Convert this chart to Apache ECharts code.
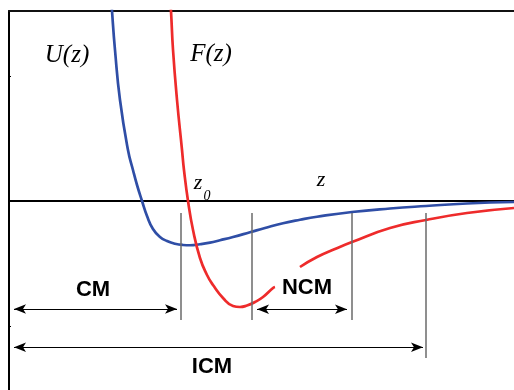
<!DOCTYPE html>
<html>
<head>
<meta charset="utf-8">
<script src="https://cdn.jsdelivr.net/npm/echarts@6/dist/echarts.min.js"></script>
<style>html,body{margin:0;padding:0;background:#fff}#c{width:514px;height:390px}</style>
</head>
<body>
<div id="c"></div>
<script>
// U(z) potential curve (arbitrary units)
const uZ   = [2.000, 2.040, 2.099, 2.198, 2.356, 2.455, 2.535, 2.634, 2.733, 2.851, 2.990, 3.129, 3.287, 3.446, 3.584, 3.782, 3.980, 4.178, 4.436, 4.772, 5.069, 5.426, 5.762, 6.099, 6.792, 7.545, 8.257, 9.069, 10.0];
const uVal = [1.768, 1.520, 1.208, 0.808, 0.408, 0.248, 0.128, 0.000, -0.120, -0.224, -0.288, -0.320, -0.342, -0.352, -0.354, -0.346, -0.333, -0.314, -0.288, -0.250, -0.216, -0.178, -0.150, -0.126, -0.088, -0.060, -0.040, -0.020, -0.008];
// F(z) force curve (null = break behind the NCM label)
const fZ   = [3.168, 3.208, 3.248, 3.327, 3.426, 3.465, 3.545, 3.644, 3.782, 3.921, 4.040, 4.238, 4.436, 4.574, 4.713, 4.871, 5.030, 5.228, 5.267, 5.500, 5.762, 6.099, 6.455, 6.792, 7.545, 8.257, 9.069, 10.0];
const fVal = [1.768, 1.520, 1.208, 0.808, 0.408, 0.248, 0.000, -0.232, -0.456, -0.592, -0.672, -0.776, -0.840, -0.848, -0.836, -0.808, -0.768, -0.696, -0.688, null, -0.528, -0.448, -0.384, -0.328, -0.216, -0.152, -0.096, -0.056];
// boundary markers
const boundZ      = [3.406, 4.812, 6.792, 8.257];
const boundTop    = [-0.096, -0.096, -0.096, -0.096];
const boundBottom = [-0.952, -0.952, -0.952, -1.256];
// range arrows
const rangeNames = ['CM', 'NCM', 'ICM'];
const rangeStart = [0.099, 4.911, 0.099];
const rangeEnd   = [3.327, 6.693, 8.198];
const rangeLevel = [-0.864, -0.866, -1.170];
// y ticks
const yTicks = [-1, 1];

const uData = uZ.map((z, i) => [z, uVal[i]]);
const fData = fZ.map((z, i) => [z, fVal[i] === null ? '-' : fVal[i]]);

const boundLines = boundZ.map((z, i) => [{coord: [z, boundTop[i]]}, {coord: [z, boundBottom[i]]}]);
const arrowLines = rangeNames.map((n, i) => [{coord: [rangeStart[i], rangeLevel[i]]}, {coord: [rangeEnd[i], rangeLevel[i]]}]);

const chart = echarts.init(document.getElementById('c'), null, {renderer: 'canvas'});
const serif = 'Liberation Serif, Times New Roman, serif';
const sans = 'Liberation Sans, Arial, sans-serif';
chart.setOption({
  animation: false,
  grid: {left: 9, top: 11, right: 0, bottom: 0, containLabel: false},
  xAxis: [
    {type: 'value', min: 0, max: 10, position: 'bottom',
     axisLine: {show: true, onZero: true, lineStyle: {color: '#000', width: 2}},
     axisTick: {show: false}, axisLabel: {show: false}, splitLine: {show: false}},
    {type: 'value', min: 0, max: 10, position: 'top',
     axisLine: {show: true, onZero: false, lineStyle: {color: '#111', width: 2}},
     axisTick: {show: false}, axisLabel: {show: false}, splitLine: {show: false}}
  ],
  yAxis: {type: 'value', min: -1.512, max: 1.52,
    axisLine: {show: true, onZero: false, lineStyle: {color: '#000', width: 2}},
    axisTick: {show: true, inside: true, length: 2, customValues: yTicks, lineStyle: {color: '#000', width: 1}},
    axisLabel: {show: false}, splitLine: {show: false}},
  graphic: [
    {type: 'text', style: {x: 67, y: 55, text: 'U(z)', font: 'italic 25px ' + serif, fill: '#000', textAlign: 'center', textVerticalAlign: 'middle'}},
    {type: 'text', style: {x: 211, y: 54, text: 'F(z)', font: 'italic 25px ' + serif, fill: '#000', textAlign: 'center', textVerticalAlign: 'middle'}},
    {type: 'text', style: {x: 198, y: 183, text: 'z', font: 'italic 22px ' + serif, fill: '#000', textAlign: 'center', textVerticalAlign: 'middle'}},
    {type: 'text', style: {x: 207, y: 196, text: '0', font: 'italic 14px ' + serif, fill: '#000', textAlign: 'center', textVerticalAlign: 'middle'}},
    {type: 'text', style: {x: 321, y: 180, text: 'z', font: 'italic 22px ' + serif, fill: '#000', textAlign: 'center', textVerticalAlign: 'middle'}},
    {type: 'text', style: {x: 93, y: 290, text: 'CM', font: 'bold 22px ' + sans, fill: '#000', textAlign: 'center', textVerticalAlign: 'middle'}},
    {type: 'text', style: {x: 307, y: 288, text: 'NCM', font: 'bold 22px ' + sans, fill: '#000', textAlign: 'center', textVerticalAlign: 'middle'}},
    {type: 'text', style: {x: 212, y: 367, text: 'ICM', font: 'bold 22px ' + sans, fill: '#000', textAlign: 'center', textVerticalAlign: 'middle'}}
  ],
  series: [
    {name: 'markers', type: 'line', data: [], silent: true,
     markLine: {silent: true, symbol: ['none', 'none'], label: {show: false},
       lineStyle: {color: '#6a6a6a', width: 1.5, type: 'solid'}, data: boundLines}},
    {name: 'U(z)', type: 'line', data: uData, smooth: 0.5, showSymbol: false, clip: true,
     lineStyle: {color: '#2f4ea6', width: 2.7}, z: 3},
    {name: 'F(z)', type: 'line', data: fData, smooth: 0.5, showSymbol: false, clip: true, connectNulls: false,
     lineStyle: {color: '#ee2b2b', width: 2.7}, z: 4},
    {name: 'ranges', type: 'line', data: [], silent: true,
     markLine: {silent: true, symbol: ['arrow', 'arrow'], symbolSize: [7, 12], label: {show: false},
       lineStyle: {color: '#000', width: 1, type: 'solid'}, data: arrowLines}}
  ]
});
</script>
</body>
</html>
